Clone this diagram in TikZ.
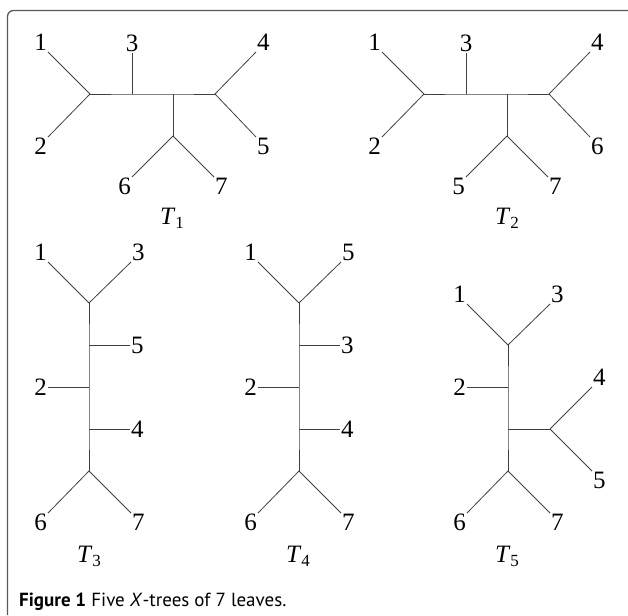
\documentclass[tikz,border=0pt]{standalone}
\usepackage{fontspec}
\setmainfont{Liberation Serif}
\newfontfamily\capfont{PT Sans}
\tikzset{
  edge/.style={draw=black!75, line width=0.8pt},
  lab/.style={font=\fontsize{25}{25}\selectfont, inner sep=1pt},
  tlab/.style={font=\fontsize{25}{25}\selectfont, inner sep=0pt},
  frame/.style={draw=black!65, line width=1.3pt, rounded corners=6pt}
}
\newcommand{\Tlab}[1]{\textit{T}\raisebox{-0.35ex}{\fontsize{17}{17}\selectfont #1}}
\begin{document}
\begin{tikzpicture}[x=1pt,y=-1pt]
\useasboundingbox (0,0) rectangle (628,615);
\coordinate (fa) at (7.5,615);
\coordinate (fb) at (7.5,10.5);
\coordinate (fc) at (628,10.5);
\draw[frame] (fa) -- (fb) -- (fc);

% ---------- T1 ----------
\coordinate (a1) at (90,94);
\coordinate (a2) at (132,94);
\coordinate (a3) at (173,94);
\coordinate (a4) at (215,94);
\coordinate (a5) at (173,136);
\node[lab, anchor=south east] (a1l) at (48,52) {1};
\node[lab, anchor=north east] (a2l) at (48,137) {2};
\node[lab, anchor=south] (a3l) at (132,53) {3};
\node[lab, anchor=south west] (a4l) at (256,52) {4};
\node[lab, anchor=north west] (a5l) at (256,137) {5};
\node[lab, anchor=north east] (a6l) at (132,177) {6};
\node[lab, anchor=north west] (a7l) at (214,177) {7};
\draw[edge] (a1) -- (a2) -- (a3) -- (a4);
\draw[edge] (a3) -- (a5);
\draw[edge] (a1) -- (a1l.south east);
\draw[edge] (a1) -- (a2l.north east);
\draw[edge] (a2) -- (a3l.south);
\draw[edge] (a4) -- (a4l.south west);
\draw[edge] (a4) -- (a5l.north west);
\draw[edge] (a5) -- (a6l.north east);
\draw[edge] (a5) -- (a7l.north west);
\node[tlab] (t1) at (172,218) {\Tlab{1}};

% ---------- T2 ----------
\coordinate (b1) at (424,94);
\coordinate (b2) at (466,94);
\coordinate (b3) at (507,94);
\coordinate (b4) at (549,94);
\coordinate (b5) at (507,136);
\node[lab, anchor=south east] (b1l) at (382,52) {1};
\node[lab, anchor=north east] (b2l) at (382,137) {2};
\node[lab, anchor=south] (b3l) at (466,53) {3};
\node[lab, anchor=south west] (b4l) at (590,52) {4};
\node[lab, anchor=north west] (b6l) at (590,137) {6};
\node[lab, anchor=north east] (b5l) at (466,177) {5};
\node[lab, anchor=north west] (b7l) at (548,177) {7};
\draw[edge] (b1) -- (b2) -- (b3) -- (b4);
\draw[edge] (b3) -- (b5);
\draw[edge] (b1) -- (b1l.south east);
\draw[edge] (b1) -- (b2l.north east);
\draw[edge] (b2) -- (b3l.south);
\draw[edge] (b4) -- (b4l.south west);
\draw[edge] (b4) -- (b6l.north west);
\draw[edge] (b5) -- (b5l.north east);
\draw[edge] (b5) -- (b7l.north west);
\node[tlab] (t2) at (507,218) {\Tlab{2}};

% ---------- T3 ----------
\coordinate (c1) at (89,303);
\coordinate (c2) at (89,345);
\coordinate (c3) at (89,387);
\coordinate (c4) at (89,429);
\coordinate (c5) at (89,471);
\node[lab, anchor=south east] (c1l) at (48,262) {1};
\node[lab, anchor=south west] (c3l) at (131,262) {3};
\node[lab, anchor=west] (c5l) at (130,345) {5};
\node[lab, anchor=east] (c2l) at (48,387) {2};
\node[lab, anchor=west] (c4l) at (130,429) {4};
\node[lab, anchor=north east] (c6l) at (48,513) {6};
\node[lab, anchor=north west] (c7l) at (131,513) {7};
\draw[edge] (c1) -- (c2) -- (c3) -- (c4) -- (c5);
\draw[edge] (c1) -- (c1l.south east);
\draw[edge] (c1) -- (c3l.south west);
\draw[edge] (c2) -- (c5l.west);
\draw[edge] (c3) -- (c2l.east);
\draw[edge] (c4) -- (c4l.west);
\draw[edge] (c5) -- (c6l.north east);
\draw[edge] (c5) -- (c7l.north west);
\node[tlab] (t3) at (89,556) {\Tlab{3}};

% ---------- T4 ----------
\coordinate (d1) at (299,303);
\coordinate (d2) at (299,345);
\coordinate (d3) at (299,387);
\coordinate (d4) at (299,429);
\coordinate (d5) at (299,471);
\node[lab, anchor=south east] (d1l) at (258,262) {1};
\node[lab, anchor=south west] (d5l) at (341,262) {5};
\node[lab, anchor=west] (d3l) at (340,345) {3};
\node[lab, anchor=east] (d2l) at (258,387) {2};
\node[lab, anchor=west] (d4l) at (340,429) {4};
\node[lab, anchor=north east] (d6l) at (258,513) {6};
\node[lab, anchor=north west] (d7l) at (341,513) {7};
\draw[edge] (d1) -- (d2) -- (d3) -- (d4) -- (d5);
\draw[edge] (d1) -- (d1l.south east);
\draw[edge] (d1) -- (d5l.south west);
\draw[edge] (d2) -- (d3l.west);
\draw[edge] (d3) -- (d2l.east);
\draw[edge] (d4) -- (d4l.west);
\draw[edge] (d5) -- (d6l.north east);
\draw[edge] (d5) -- (d7l.north west);
\node[tlab] (t4) at (298,556) {\Tlab{4}};

% ---------- T5 ----------
\coordinate (e1) at (508,345);
\coordinate (e2) at (508,387);
\coordinate (e3) at (508,429);
\coordinate (e4) at (550,429);
\coordinate (e5) at (508,471);
\node[lab, anchor=south east] (e1l) at (467,304) {1};
\node[lab, anchor=south west] (e3l) at (550,304) {3};
\node[lab, anchor=east] (e2l) at (467,387) {2};
\node[lab, anchor=south west] (e4l) at (592,387) {4};
\node[lab, anchor=north west] (e5l) at (592,471) {5};
\node[lab, anchor=north east] (e6l) at (467,513) {6};
\node[lab, anchor=north west] (e7l) at (550,513) {7};
\draw[edge] (e1) -- (e2) -- (e3) -- (e5);
\draw[edge] (e3) -- (e4);
\draw[edge] (e1) -- (e1l.south east);
\draw[edge] (e1) -- (e3l.south west);
\draw[edge] (e2) -- (e2l.east);
\draw[edge] (e4) -- (e4l.south west);
\draw[edge] (e4) -- (e5l.north west);
\draw[edge] (e5) -- (e6l.north east);
\draw[edge] (e5) -- (e7l.north west);
\node[tlab] (t5) at (507,556) {\Tlab{5}};

% ---------- caption ----------
\node[anchor=base west, inner sep=0pt, font=\capfont\fontsize{19}{19}\selectfont] (cap) at (19,606)
  {\textbf{Figure 1} Five \textit{X}-trees of 7 leaves.};
\end{tikzpicture}
\end{document}
